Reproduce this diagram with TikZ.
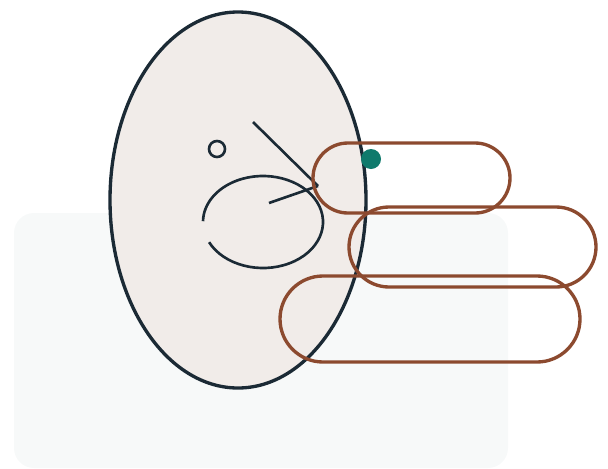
\documentclass[tikz,border=0pt]{standalone}
\usepackage{tikz}
\usetikzlibrary{calc}

\definecolor{ink}{HTML}{1B2A35}
\definecolor{rust}{HTML}{8C4A2F}
\definecolor{teal}{HTML}{0F7A6C}
\definecolor{shell}{HTML}{F1ECE9}
\definecolor{mist}{HTML}{F7F9F9}

\begin{document}
\begin{tikzpicture}[
    x=0.02cm, y=0.02cm,
    outline/.style = {draw=ink, line width=1.9pt},
    stroke/.style  = {draw=ink, line width=1.5pt},
    pill/.style    = {draw=rust, line width=1.9pt},
  ]

  % ---------- canvas ----------
  \useasboundingbox (0,0) rectangle (608,468);

  % ---------- pale panel behind ----------
  \fill[mist, rounded corners=0.4cm] (14,0) rectangle (508,255);

  % ---------- big ellipse (head) ----------
  \coordinate (head) at (238,268);
  \filldraw[outline, fill=shell] (head) ellipse [x radius=128, y radius=188];

  % ---------- small ring ----------
  \coordinate (eye) at (217,319);
  \draw[stroke] (eye) circle [radius=8];

  % ---------- open inner ellipse ----------
  \coordinate (core) at (263,246);
  \draw[stroke] ($(core)+(206:60 and 46)$) arc [start angle=206, end angle=539,
        x radius=60, y radius=46];

  % ---------- the two strokes meeting at the rim ----------
  \coordinate (tip)  at (318,282);
  \coordinate (top)  at (253,346);
  \coordinate (foot) at (269,265);
  \draw[stroke] (top) -- (tip);
  \draw[stroke] (foot) -- (tip);

  % ---------- three capsules ----------
  \draw[pill, rounded corners=0.7cm]  (313,255) rectangle (510,325);
  \draw[pill, rounded corners=0.8cm]  (349,181) rectangle (596,261);
  \draw[pill, rounded corners=0.86cm] (280,106) rectangle (580,192);

  % ---------- marker dot ----------
  \coordinate (mark) at (371,309);
  \fill[teal] (mark) circle [radius=10];

\end{tikzpicture}
\end{document}
